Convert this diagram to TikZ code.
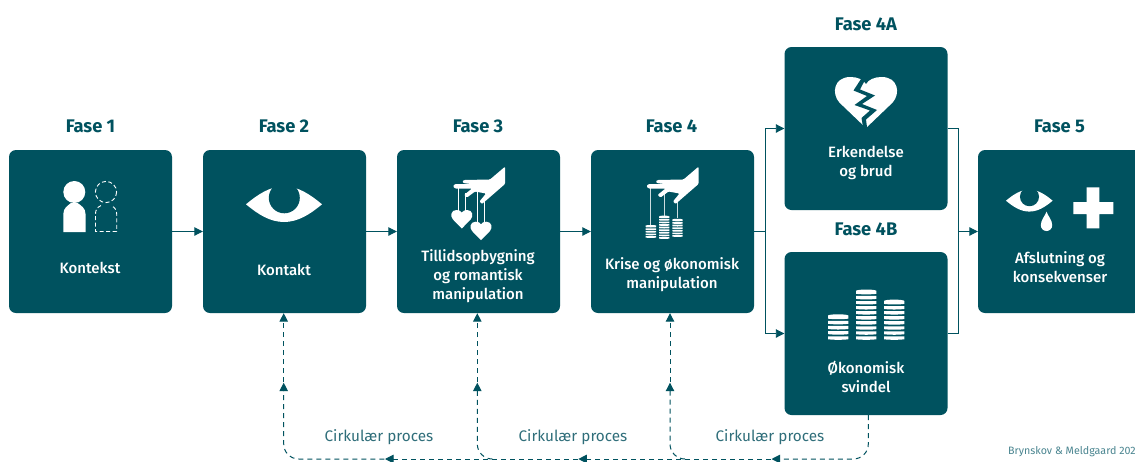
\documentclass[tikz,border=0pt]{standalone}
\usepackage{fontspec}
\setmainfont{Fira Sans}
\newfontfamily\fmed{Fira Sans Medium}
\usetikzlibrary{arrows.meta}
\definecolor{teal}{HTML}{00525F}
\definecolor{soft}{HTML}{2F6E7A}
\definecolor{credit}{HTML}{4A8590}
\tikzset{
  box/.style={fill=teal,rounded corners=7pt,minimum width=163pt,minimum height=163pt,inner sep=0pt},
  phase/.style={text=teal,font=\bfseries\fontsize{18.3}{20}\selectfont,inner sep=0pt},
  lab/.style={text=white,font=\fmed\fontsize{15}{19}\selectfont,align=center,inner sep=0pt},
  circ/.style={text=soft,font=\fontsize{15.3}{17}\selectfont,inner sep=0pt},
  link/.style={draw=teal,line width=0.9pt},
  tip/.style={-{Triangle[length=8.5pt,width=8.5pt]}},
  loopline/.style={draw=teal,line width=1pt,dash pattern=on 5pt off 4pt},
}
\newcommand\heartmark[4]{%
 \begin{scope}[shift={(#1,#2)},xscale=#3,yscale=#4]
 \fill[white] (0,1) -- (-.43,.5) .. controls (-.56,.32) and (-.52,0) .. (-.25,0) .. controls (-.14,0) and (-.04,.05) .. (0,.14)
   .. controls (.04,.05) and (.14,0) .. (.25,0) .. controls (.52,0) and (.56,.32) .. (.43,.5) -- cycle;
 \end{scope}}
\newcommand\hand[1]{%
 \begin{scope}[shift={(#1,0)}]
 \fill[white,rounded corners=1pt] (505,166.7) -- (505,184) -- (482,204) -- (479.5,201.5) -- (486,193.5) -- (475,191.5) -- (467,197.5) -- (464,195) -- (472,188.5) -- (455,188.5) -- (453,186.2) -- (455,184) -- (471,184) -- (464,183.2) -- (462,181.6) -- (464,180) -- (490,179.5) -- cycle;
 \end{scope}}
\newcommand\coinstack[5]{%
 \foreach \i in {1,...,#4}{%
  \pgfmathsetmacro\yb{#2-(\i-1)*#5}
  \pgfmathsetmacro\yt{\yb-0.72*#5}
  \pgfmathsetmacro\ym{\yb-0.15*#5}
  \fill[white] (#1,\yt) -- (#1+#3,\yt) -- (#1+#3,\ym) .. controls (#1+.75*#3,\yb) and (#1+.25*#3,\yb) .. (#1,\ym) -- cycle;
 }
 \pgfmathsetmacro\ytop{#2-(#4-1)*#5-0.72*#5}
 \fill[white] (#1+.5*#3,\ytop) ellipse ({.5*#3} and {.28*#5});}
\newcommand\eyemark[3]{%
 \begin{scope}[shift={(#1,#2)},scale=#3]
 \fill[white] (-38,0) .. controls (-26,-10) and (-14,-18) .. (0,-18) .. controls (14,-18) and (26,-10) .. (38,0)
   .. controls (26,10) and (14,17.7) .. (0,17.7) .. controls (-14,17.7) and (-26,10) .. (-38,0) -- cycle;
 \fill[teal] (.3,-6.5) circle (15.5);
 \end{scope}}
\begin{document}
\begin{tikzpicture}[x=1pt,y=-1pt]
\useasboundingbox (0,0) rectangle (1135,461);
\clip (0,0) rectangle (1135,461);
\fill[white] (0,0) rectangle (1135,461);
% boxes
\node[box] (f1) at (90.5,231.5) {};
\node[box] (f2) at (284.5,231.5) {};
\node[box] (f3) at (478.5,231.5) {};
\node[box] (f4) at (672.5,231.5) {};
\node[box] (f4a) at (866,128.5) {};
\node[box] (f4b) at (866,333.5) {};
\node[box] (f5) at (1059.5,231.5) {};
% titles
\node[phase] (t1) at (90.5,126.5) {Fase 1};
\node[phase] (t2) at (284,126.5) {Fase 2};
\node[phase] (t3) at (478,126.5) {Fase 3};
\node[phase] (t4) at (671.5,126.5) {Fase 4};
\node[phase] (t4a) at (866,24) {Fase 4A};
\node[phase] (t4b) at (866,229.5) {Fase 4B};
\node[phase] (t5) at (1059.5,126.5) {Fase 5};
% labels
\node[lab] (l1) at (90,267.5) {Kontekst};
\node[lab] (l2) at (284,269.5) {Kontakt};
\node[lab] (l3) at (478,276) {Tillidsopbygning\\og romantisk\\manipulation};
\node[lab] (l4) at (672,274.5) {Krise og økonomisk\\manipulation};
\node[lab] (l4a) at (866,162.5) {Erkendelse\\og brud};
\node[lab] (l4b) at (866,376.5) {Økonomisk\\svindel};
\node[lab] (l5) at (1060,267.5) {Afslutning og\\konsekvenser};
\node[circ] (c1) at (379,437) {Cirkulær proces};
\node[circ] (c2) at (573,437) {Cirkulær proces};
\node[circ] (c3) at (770,437) {Cirkulær proces};
\node[text=credit,font=\fontsize{10.7}{12}\selectfont,inner sep=0pt,anchor=west] (cr) at (1008,452) {Brynskov \& Meldgaard 202};
% connectors
\draw[link,tip] (f1.east) -- (f2.west);
\draw[link,tip] (f2.east) -- (f3.west);
\draw[link,tip] (f3.east) -- (f4.west);
\coordinate (fl) at (765,231.5);
\coordinate (fr) at (958.5,231.5);
\draw[link] (f4.east) -- (fl);
\draw[link,tip] (fl) |- (f4a.west);
\draw[link,tip] (fl) |- (f4b.west);
\draw[link] (f4a.east) -| (fr);
\draw[link] (f4b.east) -| (fr);
\draw[link,tip] (fr) -- (f5.west);
% circular loop
\coordinate (s) at (868.3,415);
\coordinate (k3) at (868.3,459);
\coordinate (h3) at (771.5,459);
\coordinate (h3b) at (780,459);
\coordinate (h2) at (578.3,459);
\coordinate (h2b) at (586.6,459);
\coordinate (h1) at (385,459);
\coordinate (h1b) at (393.3,459);
\coordinate (v1k) at (283.7,459);
\coordinate (v1a) at (283.7,382.7);
\coordinate (v1b) at (283.7,391);
\coordinate (v2s) at (492,459);
\coordinate (v2k) at (477.3,459);
\coordinate (v2a) at (477.3,382.7);
\coordinate (v2b) at (477.3,391);
\coordinate (v3s) at (685,459);
\coordinate (v3k) at (670,459);
\coordinate (v3a) at (670,382.7);
\coordinate (v3b) at (670,391);
\draw[loopline,tip,rounded corners=15pt] (s) -- (k3) -- (h3);
\draw[loopline,tip] (h3b) -- (h2);
\draw[loopline,tip] (h2b) -- (h1);
\draw[loopline,tip,rounded corners=15pt] (h1b) -- (v1k) -- (v1a);
\draw[loopline,tip,rounded corners=15pt] (v2s) -- (v2k) -- (v2a);
\draw[loopline,tip,rounded corners=15pt] (v3s) -- (v3k) -- (v3a);
\draw[loopline,tip] (v1b) -- (v1b |- f2.south);
\draw[loopline,tip] (v2b) -- (v2b |- f3.south);
\draw[loopline,tip] (v3b) -- (v3b |- f4.south);
% icon: persons
\fill[white] (74.3,192) circle (11);
\fill[white] (63.3,232) -- (63.3,214) .. controls (63.3,208) and (68,205.5) .. (71,203) -- (77.5,203) .. controls (81,205.5) and (85.5,208) .. (85.5,214) -- (85.5,232) -- cycle;
\begin{scope}[white,line width=.9pt,dash pattern=on 4pt off 2.5pt]
\draw (106,192) circle (10.6);
\draw (101,205.5) .. controls (97,207.5) and (95.5,210) .. (95.5,214) -- (95.5,231.5) -- (116.7,231.5) -- (116.7,214) .. controls (116.7,210) and (115,207.5) .. (111,205.5);
\end{scope}
% icon: eye
\eyemark{284}{204.3}{1}
% icon: hearts on hand
\hand{0}
\draw[white,line width=.8pt] (458.3,186) -- (458.3,213) (465.3,193) -- (465.3,213) (477.7,192) -- (477.7,224) (484.3,200) -- (484.3,224);
\heartmark{461.8}{210}{21}{18.5}
\heartmark{481}{221.7}{21}{18.5}
% icon: coins on hand
\hand{193.5}
\draw[white,line width=.8pt,opacity=.8] (650.7,186) -- (650.7,225) (664,193) -- (664,216) (677.3,200) -- (677.3,218);
\coinstack{645.7}{238}{10.4}{5}{2.6}
\coinstack{659}{239}{10.4}{9}{2.6}
\coinstack{672.3}{237}{10.4}{7}{2.6}
% icon: broken heart
\heartmark{866}{77}{62}{51}
\fill[teal] (861,79) -- (853.5,90.5) -- (867,96) -- (854.5,105) -- (870,110.5) -- (861.5,118) -- (863,127) -- (863,131) -- (867.5,131) -- (866,119.5) -- (877,110) -- (862,104) -- (875,95.5) -- (860,89.5) -- (866,78) -- cycle;
% icon: coins
\coinstack{828}{340}{20.3}{5}{5.15}
\coinstack{856}{340}{20.3}{10}{5.05}
\coinstack{884}{340}{20.3}{8}{5.05}
% icon: eye, tear and cross
\eyemark{1029.3}{200.7}{.614}
\fill[white] (1046.5,211.7) .. controls (1048,216) and (1052.2,220) .. (1052.2,225.3) arc[start angle=0,end angle=180,radius=5.7] .. controls (1040.8,220) and (1045,216) .. (1046.5,211.7) -- cycle;
\fill[white] (1086.7,187.3) -- (1099.3,187.3) -- (1099.3,202) -- (1113.3,202) -- (1113.3,214) -- (1099.3,214) -- (1099.3,228.3) -- (1086.7,228.3) -- (1086.7,214) -- (1073.3,214) -- (1073.3,202) -- (1086.7,202) -- cycle;
\end{tikzpicture}
\end{document}
